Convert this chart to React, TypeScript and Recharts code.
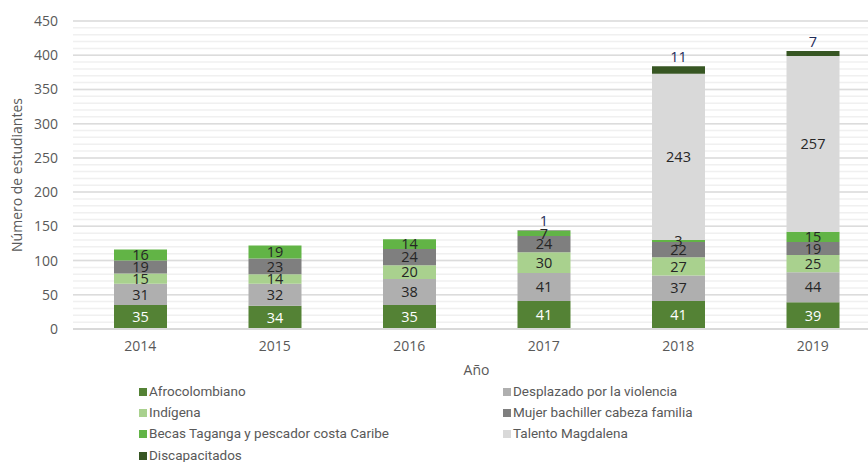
import { BarChart, Bar, XAxis, YAxis, CartesianGrid, LabelList, Label } from 'recharts';

const years = ['2014', '2015', '2016', '2017', '2018', '2019'];
const afrocolombiano = [35, 34, 35, 41, 41, 39];
const desplazado = [31, 32, 38, 41, 37, 44];
const indigena = [15, 14, 20, 30, 27, 25];
const mujerBachiller = [19, 23, 24, 24, 22, 19];
const becasTaganga = [16, 19, 14, 7, 3, 15];
const talentoMagdalena = [0, 0, 0, 0, 243, 257];
const discapacitados = [0, 0, 0, 1, 11, 7];

const yTicks = [0, 50, 100, 150, 200, 250, 300, 350, 400, 450];
const minorLines = Array.from({ length: 46 }, (_, i) => i * 10);

const SERIES = [
    { key: 'afro', name: 'Afrocolombiano', values: afrocolombiano, color: '#548235', label: '#ffffff' },
    { key: 'desp', name: 'Desplazado por la violencia', values: desplazado, color: '#afafaf', label: '#262626' },
    { key: 'indi', name: 'Indígena', values: indigena, color: '#a9d18e', label: '#262626' },
    { key: 'mujer', name: 'Mujer bachiller cabeza familia', values: mujerBachiller, color: '#7f7f7f', label: '#262626' },
    { key: 'becas', name: 'Becas Taganga y pescador costa Caribe', values: becasTaganga, color: '#62b446', label: '#262626' },
    { key: 'talento', name: 'Talento Magdalena', values: talentoMagdalena, color: '#d9d9d9', label: '#262626' },
    { key: 'disc', name: 'Discapacitados', values: discapacitados, color: '#375623', label: '#1f2d5a' },
];

const data = years.map((year, i) => {
    const row: Record<string, string | number> = { year };
    SERIES.forEach(s => { row[s.key] = s.values[i]; });
    return row;
});

const hideZero = (v: any) => (v ? v : '');

const legendOrder = [
    ['Afrocolombiano', 'Desplazado por la violencia'],
    ['Indígena', 'Mujer bachiller cabeza familia'],
    ['Becas Taganga y pescador costa Caribe', 'Talento Magdalena'],
    ['Discapacitados'],
];

function ChartLegend() {
    const colorOf = (name: string) => SERIES.find(s => s.name === name)?.color;
    return (
        <div style={{ position: 'absolute', left: 139, top: 381, fontFamily: 'Roboto, sans-serif', fontSize: 13.5, lineHeight: 1, color: '#595959' }}>
            {legendOrder.map((row, r) => (
                <div key={r} style={{ display: 'flex', height: 21.3, alignItems: 'center' }}>
                    {row.map(name => (
                        <div key={name} style={{ width: 364, display: 'flex', alignItems: 'center' }}>
                            <span style={{ width: 8, height: 8, background: colorOf(name), marginRight: 2, display: 'inline-block' }} />
                            <span>{name}</span>
                        </div>
                    ))}
                </div>
            ))}
        </div>
    );
}

export default function App() {
    return (
        <div style={{ position: 'fixed', left: 0, top: 0, width: 868, height: 462, overflow: 'hidden', background: '#fff' }}>
            <BarChart
                width={890}
                height={462}
                data={data}
                margin={{ top: 21, right: 10, bottom: 103, left: 0 }}
                barSize={53}
            >
                <CartesianGrid vertical={false} horizontalValues={minorLines} stroke="#f0f0f0" strokeWidth={1.5} />
                <CartesianGrid vertical={false} horizontalValues={yTicks} stroke="#dcdcdc" strokeWidth={1.5} />
                <XAxis
                    dataKey="year"
                    height={30}
                    tickLine={false}
                    axisLine={{ stroke: '#d9d9d9', strokeWidth: 2 }}
                    tick={{ fill: '#595959', fontSize: 14, fontFamily: 'Open Sans, sans-serif' }}
                    tickMargin={6}
                >
                    <Label value="Año" position="bottom" offset={6} style={{ fill: '#595959', fontSize: 14, fontFamily: 'Open Sans, sans-serif' }} />
                </XAxis>
                <YAxis
                    width={73}
                    domain={[0, 450]}
                    ticks={yTicks}
                    interval={0}
                    tickLine={false}
                    axisLine={false}
                    tickMargin={9}
                    tick={{ fill: '#595959', fontSize: 14, fontFamily: 'Open Sans, sans-serif' }}
                >
                    <Label
                        content={() => (
                            <text x={16} y={175} transform="rotate(-90 16 175)" textAnchor="middle" dominantBaseline="central"
                                style={{ fill: '#595959', fontSize: 14, fontFamily: 'Open Sans, sans-serif' }}>
                                Número de estudiantes
                            </text>
                        )}
                    />
                </YAxis>
                {SERIES.map(s => (
                    <Bar key={s.key} dataKey={s.key} name={s.name} stackId="a" fill={s.color} isAnimationActive={false}>
                        <LabelList
                            dataKey={s.key}
                            position={s.key === 'disc' ? 'top' : 'center'}
                            offset={4}
                            formatter={hideZero}
                            style={{ fill: s.label, fontSize: 14.5, fontFamily: 'Open Sans, sans-serif' }}
                        />
                    </Bar>
                ))}
            </BarChart>
            <ChartLegend />
        </div>
    );
}
